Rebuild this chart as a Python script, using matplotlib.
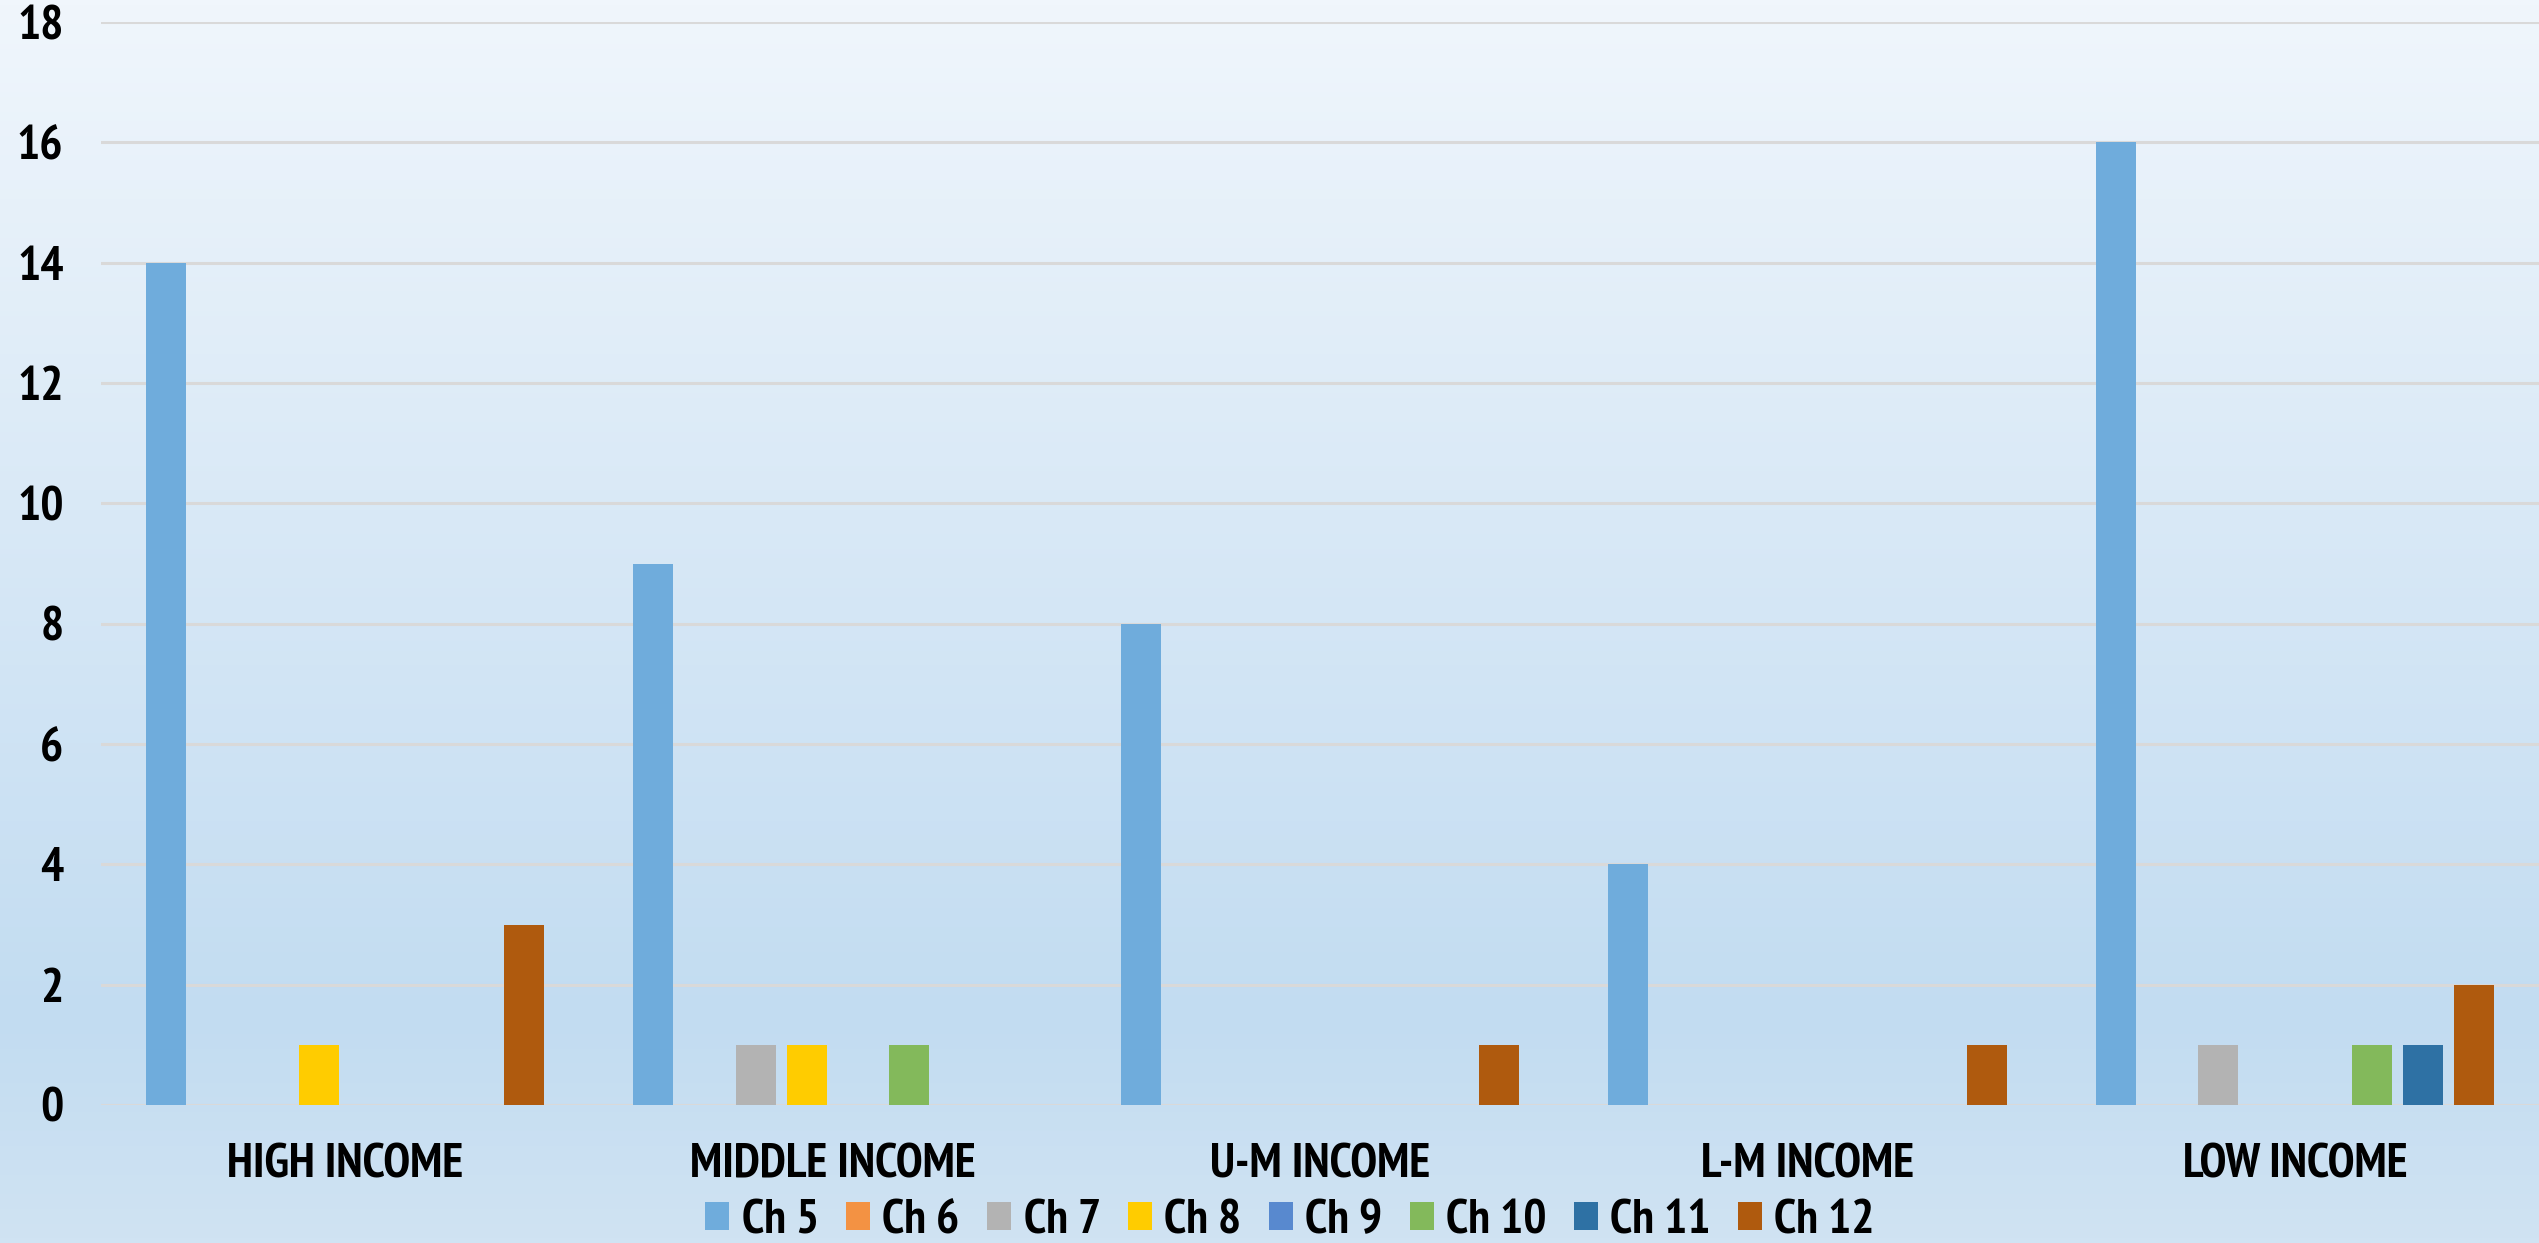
import numpy as np
import matplotlib
matplotlib.use("Agg")
import matplotlib.pyplot as plt
from matplotlib import font_manager as fm
from matplotlib.colors import LinearSegmentedColormap

categories = ["HIGH INCOME", "MIDDLE INCOME", "U-M INCOME", "L-M INCOME", "LOW INCOME"]
series_names = ["Ch 5", "Ch 6", "Ch 7", "Ch 8", "Ch 9", "Ch 10", "Ch 11", "Ch 12"]
ch5 = [14, 9, 8, 4, 16]
ch6 = [0, 0, 0, 0, 0]
ch7 = [0, 1, 0, 0, 1]
ch8 = [1, 1, 0, 0, 0]
ch9 = [0, 0, 0, 0, 0]
ch10 = [0, 1, 0, 0, 1]
ch11 = [0, 0, 0, 0, 1]
ch12 = [3, 0, 1, 1, 2]
series_values = [ch5, ch6, ch7, ch8, ch9, ch10, ch11, ch12]
colors = ["#6FACDC", "#F39243", "#B3B3B3", "#FFCC00", "#5889CF", "#83B95B", "#2E71A4", "#AF5A0E"]
yticks = [0, 2, 4, 6, 8, 10, 12, 14, 16, 18]

bold_fams = {}
for f in fm.fontManager.ttflist:
    w = f.weight if isinstance(f.weight, int) else (700 if 'bold' in str(f.weight) else 400)
    if w >= 700:
        bold_fams[f.name] = True
pref = ["Liberation Sans Narrow", "Arial Narrow", "Nimbus Sans Narrow", "PT Sans Narrow",
        "Archivo Narrow", "Roboto Condensed", "Arimo", "Liberation Sans"]
fam = [f for f in pref if f in bold_fams][:1]
plt.rcParams['font.family'] = fam + ["DejaVu Sans"]
plt.rcParams['font.weight'] = 'bold'

W, H = 2539, 1243
fig = plt.figure(figsize=(W / 100, H / 100), dpi=100)

bg = fig.add_axes([0, 0, 1, 1], zorder=-10)
cmap = LinearSegmentedColormap.from_list("bg", [(0.0, "#F0F6FC"), (0.82, "#C2DCF1"), (1.0, "#D0E3F3")])
grad = np.linspace(0, 1, 256).reshape(-1, 1)
bg.imshow(grad, aspect="auto", cmap=cmap, extent=[0, 1, 0, 1], origin="upper")
bg.set_axis_off()

left = 101 / W
bottom = (H - 1105) / H
top = (H - 22) / H
ax = fig.add_axes([left, bottom, 1 - left, top - bottom])
ax.patch.set_alpha(0)

n = len(series_names)
slot = 0.105
bw = 0.082
x = np.arange(len(categories))
for i, (name, vals, c) in enumerate(zip(series_names, series_values, colors)):
    offs = (i - (n - 1) / 2) * slot
    ax.bar(x + offs, vals, width=bw, color=c, label=name, zorder=3, linewidth=0)

ax.set_xlim(-0.5, len(categories) - 0.5)
ax.set_ylim(0, 18)
ax.set_yticks(yticks)
ax.set_yticklabels([str(v) for v in yticks])
ax.set_xticks(x)
ax.set_xticklabels(categories)
ax.yaxis.grid(True, color="#D9D9D9", linewidth=2.2, zorder=0)
ax.set_axisbelow(True)
for s in ax.spines.values():
    s.set_visible(False)
ax.tick_params(axis="both", length=0, labelsize=35)
ax.tick_params(axis="y", pad=27)
ax.tick_params(axis="x", pad=28)

handles, labels = ax.get_legend_handles_labels()
fig.legend(handles, labels, loc="center", bbox_to_anchor=(1290 / W, (H - 1221) / H), ncol=8,
           frameon=False, fontsize=35, handlelength=0.5, handleheight=0.5,
           handletextpad=0.25, columnspacing=0.56, borderaxespad=0)

fig.savefig("out.png", dpi=100)
